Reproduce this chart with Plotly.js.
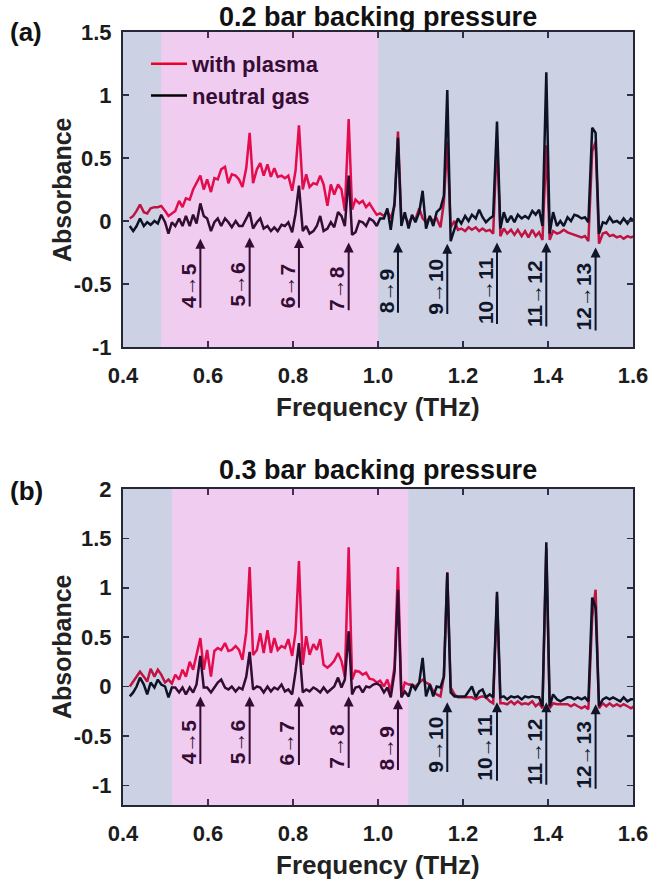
<!DOCTYPE html>
<html>
<head>
<meta charset="utf-8">
<script src="https://cdn.plot.ly/plotly-3.0.1.min.js"></script>
<style>html,body{margin:0;padding:0;background:#fff;}#chart{width:651px;height:881px;}</style>
</head>
<body>
<div id="chart"></div>
<script>
// ---------------- DATA ----------------
const seriesNames = ['with plasma', 'neutral gas'];
const panelTitles = ['0.2 bar backing pressure', '0.3 bar backing pressure'];
const panelLetters = ['(a)', '(b)'];
const xAxisTitle = 'Frequency (THz)';
const yAxisTitle = 'Absorbance';

const freqTHz = [
0.416,0.424,0.432,0.440,0.449,0.457,0.465,0.474,0.482,0.490,
0.499,0.507,0.515,0.523,0.532,0.540,0.548,0.557,0.565,0.573,
0.582,0.590,0.598,0.607,0.615,0.623,0.631,0.640,0.648,0.656,
0.665,0.673,0.681,0.690,0.698,0.706,0.715,0.723,0.731,0.740,
0.748,0.756,0.764,0.773,0.781,0.789,0.798,0.806,0.814,0.823,
0.831,0.839,0.848,0.856,0.864,0.872,0.881,0.889,0.897,0.906,
0.914,0.922,0.931,0.939,0.947,0.956,0.964,0.972,0.980,0.989,
0.997,1.005,1.014,1.022,1.030,1.039,1.047,1.055,1.063,1.072,
1.080,1.088,1.097,1.105,1.113,1.122,1.130,1.138,1.147,1.155,
1.163,1.171,1.180,1.188,1.196,1.205,1.213,1.221,1.230,1.238,
1.246,1.254,1.263,1.271,1.280,1.288,1.296,1.304,1.313,1.321,
1.329,1.338,1.346,1.354,1.363,1.371,1.379,1.387,1.396,1.404,
1.412,1.421,1.429,1.437,1.446,1.454,1.462,1.470,1.479,1.487,
1.495,1.504,1.512,1.520,1.529,1.537,1.545,1.553,1.562,1.570,
1.578,1.587,1.595,1.603];

// panel (a): 0.2 bar
const plasmaA = [
0.02,0.04,0.08,0.13,0.07,0.06,0.10,0.11,0.11,0.12,
0.08,0.04,0.06,0.08,0.16,0.11,0.18,0.17,0.25,0.30,
0.36,0.25,0.33,0.23,0.34,0.33,0.41,0.43,0.30,0.37,
0.36,0.33,0.27,0.42,0.70,0.30,0.41,0.46,0.36,0.45,
0.35,0.42,0.35,0.36,0.34,0.36,0.24,0.40,0.76,0.25,
0.37,0.27,0.30,0.29,0.36,0.29,0.12,0.29,0.21,0.29,
0.25,0.08,0.81,0.09,0.17,0.14,0.16,0.11,0.14,0.09,
0.05,0.06,0.04,0.08,0.02,0.12,0.71,0.00,0.04,-0.02,
0.03,0.01,0.10,0.02,-0.01,0.03,0.00,0.02,-0.05,0.15,
0.63,-0.05,0.00,-0.07,-0.06,-0.08,-0.05,-0.07,-0.05,-0.08,
-0.06,-0.08,-0.07,-0.10,0.65,-0.12,-0.06,-0.10,-0.07,-0.11,
-0.07,-0.12,-0.08,-0.13,-0.07,-0.12,-0.09,-0.15,0.60,-0.15,
-0.08,-0.10,-0.09,-0.07,-0.09,-0.10,-0.11,-0.12,-0.13,-0.12,
-0.16,0.55,0.63,-0.18,-0.10,-0.09,-0.12,-0.11,-0.13,-0.12,
-0.14,-0.12,-0.13,-0.12];
const neutralA = [
-0.04,-0.08,-0.04,0.02,-0.04,-0.01,-0.03,0.00,-0.02,0.05,
-0.01,-0.10,-0.01,-0.04,0.02,-0.04,0.04,-0.04,0.05,-0.02,
0.14,0.04,0.02,-0.08,-0.01,0.02,-0.04,0.02,-0.01,-0.05,
0.00,-0.04,-0.04,0.02,0.07,-0.06,-0.01,0.02,-0.06,-0.04,
-0.08,-0.05,-0.08,-0.03,-0.04,-0.01,-0.09,0.06,0.28,-0.08,
-0.04,-0.10,-0.08,-0.04,0.04,-0.08,-0.06,-0.01,-0.05,0.07,
0.04,-0.04,0.36,-0.11,-0.09,0.00,-0.01,-0.04,0.02,0.00,
-0.04,0.02,0.02,0.10,-0.07,0.15,0.66,-0.04,0.07,-0.06,
0.05,-0.01,0.07,0.24,-0.06,0.04,-0.04,0.07,0.10,0.20,
1.04,-0.16,-0.06,0.02,-0.02,0.04,0.00,0.05,0.02,0.09,
0.03,-0.01,0.02,0.04,0.79,-0.06,0.07,-0.01,0.04,-0.01,
0.05,0.02,0.04,0.02,0.08,0.05,0.09,-0.04,1.18,-0.10,
0.07,-0.04,0.00,-0.04,0.03,0.00,0.05,0.04,0.02,0.03,
-0.01,0.74,0.70,-0.10,-0.01,-0.02,0.03,-0.01,0.00,-0.02,
0.02,-0.02,0.02,0.00];

// panel (b): 0.3 bar
const plasmaB = [
0.00,0.05,0.10,0.15,0.10,0.05,0.18,0.10,0.17,0.12,
0.04,0.07,0.03,0.12,0.07,0.17,0.10,0.25,0.17,0.31,
0.49,0.17,0.37,0.10,0.36,0.39,0.37,0.44,0.36,0.37,
0.41,0.37,0.27,0.55,1.21,0.32,0.37,0.54,0.34,0.57,
0.34,0.49,0.37,0.41,0.39,0.48,0.31,0.55,1.27,0.22,
0.51,0.32,0.43,0.37,0.48,0.22,0.19,0.22,0.26,0.34,
0.26,0.10,1.41,0.07,0.16,0.15,0.12,0.14,0.08,0.07,
0.04,0.06,0.00,0.07,-0.05,0.20,1.21,-0.10,0.04,0.02,
0.02,0.00,0.04,0.07,0.04,0.02,-0.05,-0.08,-0.10,0.10,
1.16,-0.01,-0.08,-0.11,-0.11,-0.11,-0.11,-0.11,-0.13,-0.11,
-0.10,-0.11,-0.15,-0.17,0.92,-0.17,-0.17,-0.18,-0.15,-0.18,
-0.15,-0.18,-0.17,-0.18,-0.15,-0.20,-0.17,-0.22,1.40,-0.22,
-0.17,-0.18,-0.18,-0.18,-0.18,-0.20,-0.18,-0.20,-0.22,-0.20,
-0.23,0.70,0.98,-0.22,-0.17,-0.20,-0.17,-0.20,-0.18,-0.20,
-0.18,-0.20,-0.22,-0.20];
const neutralB = [
-0.10,-0.06,0.00,0.09,0.02,-0.08,0.04,-0.01,0.07,0.02,
0.00,-0.11,-0.01,-0.01,-0.06,-0.01,-0.08,-0.01,-0.06,0.02,
0.31,-0.01,-0.01,-0.06,-0.01,0.04,0.07,-0.01,-0.03,0.00,
-0.05,-0.01,-0.03,0.10,0.35,-0.03,0.00,-0.01,-0.06,0.00,
-0.05,-0.01,-0.03,0.02,-0.05,-0.03,-0.08,0.15,0.44,-0.06,
-0.03,-0.05,-0.01,-0.03,-0.06,-0.01,-0.06,-0.03,0.00,0.09,
-0.01,0.07,0.56,-0.08,-0.01,0.00,-0.06,0.00,-0.01,0.02,
0.03,0.01,-0.06,-0.01,-0.11,0.15,0.98,-0.11,-0.05,-0.10,
0.02,-0.03,0.04,0.29,-0.10,0.02,-0.10,0.00,-0.01,0.10,
1.15,-0.06,-0.10,-0.10,-0.10,-0.10,-0.05,0.00,-0.11,-0.05,
-0.03,-0.11,-0.08,-0.11,0.96,-0.11,-0.10,-0.13,-0.10,-0.11,
-0.10,-0.13,-0.10,-0.11,-0.10,-0.11,-0.11,-0.20,1.46,-0.20,
-0.08,-0.13,-0.15,-0.13,-0.11,-0.11,-0.13,-0.11,-0.13,-0.11,
-0.15,0.90,0.80,-0.20,-0.13,-0.11,-0.13,-0.11,-0.13,-0.15,
-0.11,-0.15,-0.13,-0.13];

// rotational transitions
const lineFreqs = [0.582, 0.698, 0.814, 0.931, 1.047, 1.163, 1.280, 1.396, 1.512];
const transitionLabels = ['4→5','5→6','6→7','7→8','8→9','9→10','10→11','11→12','12→13'];

// plasma-region shading (THz)
const plasmaRegionA = [0.49, 1.0];
const plasmaRegionB = [0.515, 1.071];

// ticks
const xTickVals = [0.4, 0.6, 0.8, 1.0, 1.2, 1.4, 1.6];
const xTickText = ['0.4','0.6','0.8','1.0','1.2','1.4','1.6'];
const yTickValsA = [-1, -0.5, 0, 0.5, 1, 1.5];
const yTickTextA = ['-1','-0.5','0','0.5','1','1.5'];
const yTickValsB = [-1, -0.5, 0, 0.5, 1, 1.5, 2];
const yTickTextB = ['-1','-0.5','0','0.5','1','1.5','2'];

// ---------------- LAYOUT / STYLE ----------------
const W = 651, H = 881;
const px = v => v / W;
const py = v => 1 - v / H;
const FONT = 'Liberation Sans, Arial, Helvetica, sans-serif';
const RED = 'rgb(238,0,38)';
const BLACK = 'rgb(0,0,0)';
const AXC = 'rgb(38,38,56)';
const PINK = 'rgb(195,50,195)';
const BLUE = 'rgb(51,75,147)';
const OVL = 0.25;
const TINT_PINK = 'rgb(52,12,52)';
const TINT_BLUE = 'rgb(16,22,42)';

// arrow geometry (absorbance units) per panel
const arrowTipA  = [-0.14,-0.13,-0.135,-0.17,-0.17,-0.18,-0.17,-0.17,-0.21];
const arrowBaseA = [-0.70,-0.69,-0.70,-0.72,-0.74,-0.75,-0.83,-0.85,-0.88];
const arrowTipB  = [-0.10,-0.10,-0.10,-0.10,-0.13,-0.16,-0.16,-0.16,-0.18];
const arrowBaseB = [-0.80,-0.80,-0.81,-0.84,-0.86,-0.88,-0.97,-1.01,-1.05];

const xDom = [px(123), px(633)];
const yDomA = [py(347), py(32)];
const yDomB = [py(805), py(489)];

const traces = [
  {x: freqTHz, y: plasmaA, xaxis:'x', yaxis:'y', mode:'lines', name: seriesNames[0],
   line:{color:RED, width:2.5}, legendgroup:'p'},
  {x: freqTHz, y: neutralA, xaxis:'x', yaxis:'y', mode:'lines', name: seriesNames[1],
   line:{color:BLACK, width:2.5}, legendgroup:'n'},
  {x: freqTHz, y: plasmaB, xaxis:'x2', yaxis:'y2', mode:'lines', name: seriesNames[0],
   line:{color:RED, width:2.5}, showlegend:false, legendgroup:'p'},
  {x: freqTHz, y: neutralB, xaxis:'x2', yaxis:'y2', mode:'lines', name: seriesNames[1],
   line:{color:BLACK, width:2.5}, showlegend:false, legendgroup:'n'}
];

function xAxis(anchor) {
  return {domain: xDom, range:[0.4, 1.6], anchor: anchor, tickvals: xTickVals, ticktext: xTickText,
    ticks:'inside', ticklen:6, tickwidth:1.5, tickcolor:AXC, showline:true, linewidth:2, linecolor:AXC,
    mirror:'ticks', showgrid:false, zeroline:false, ticklabelstandoff:8,
    tickfont:{family:FONT, size:22, weight:'bold', color:'#1c1c1c'}};
}
function yAxis(anchor, dom, range, vals, text) {
  return {domain: dom, range: range, anchor: anchor, tickvals: vals, ticktext: text,
    ticks:'inside', ticklen:6, tickwidth:1.5, tickcolor:AXC, showline:true, linewidth:2, linecolor:AXC,
    mirror:'ticks', showgrid:false, zeroline:false, ticklabelstandoff:5,
    tickfont:{family:FONT, size:22, weight:'bold', color:'#1c1c1c'}};
}

function regionShapes(xr, yr, region) {
  const mk = (x0, x1, col) => ({type:'rect', xref:xr, yref: yr + ' domain', x0:x0, x1:x1, y0:0, y1:1,
    fillcolor:col, opacity:OVL, line:{width:0}, layer:'above'});
  return [mk(0.4, region[0], BLUE), mk(region[0], region[1], PINK), mk(region[1], 1.6, BLUE)];
}

const annotations = [];
function panelAnnotations(xr, yr, tips, bases, region) {
  lineFreqs.forEach((f, i) => {
    const inPink = f >= region[0] && f <= region[1];
    const col = inPink ? TINT_PINK : TINT_BLUE;
    annotations.push({xref:xr, yref:yr, axref:xr, ayref:yr, x:f, y:tips[i], ax:f, ay:bases[i],
      text:'', showarrow:true, arrowhead:2, arrowsize:1, arrowwidth:2, arrowcolor:col, standoff:0});
    annotations.push({xref:xr, yref:yr, x:f, y:bases[i], xshift:-12, yshift:-1, text:
      transitionLabels[i].replace('→', '<span style="font-weight:normal">→</span>'),
      showarrow:false, textangle:-90, xanchor:'center', yanchor:'bottom',
      font:{family:FONT, size:21, weight:'bold', color:col}});
  });
}
panelAnnotations('x', 'y', arrowTipA, arrowBaseA, plasmaRegionA);
panelAnnotations('x2', 'y2', arrowTipB, arrowBaseB, plasmaRegionB);

const titleFont = {family:FONT, size:27, weight:'bold', color:'#111'};
const axTitleFont = {family:FONT, size:26, weight:'bold', color:'#222'};
const yTitleFont = {family:FONT, size:25, weight:'bold', color:'#222'};
const cx = px(378);
[[panelTitles[0], 17], [panelTitles[1], 470]].forEach(([t, y]) => annotations.push({
  xref:'paper', yref:'paper', x:cx, y:py(y), xanchor:'center', yanchor:'middle', text:t,
  showarrow:false, font:titleFont}));
[[panelLetters[0], 32], [panelLetters[1], 491]].forEach(([t, y]) => annotations.push({
  xref:'paper', yref:'paper', x:px(26), y:py(y), xanchor:'center', yanchor:'middle', text:t,
  showarrow:false, font:{family:FONT, size:26, weight:'bold', color:'#111'}}));
[407, 865].forEach(y => annotations.push({xref:'paper', yref:'paper', x:cx, y:py(y),
  xanchor:'center', yanchor:'middle', text:xAxisTitle, showarrow:false, font:axTitleFont}));
[190, 647].forEach(y => annotations.push({xref:'paper', yref:'paper', x:px(62), y:py(y),
  xanchor:'center', yanchor:'middle', text:yAxisTitle, textangle:-90, showarrow:false, font:yTitleFont}));

const layout = {
  width: W, height: H, margin:{l:0, r:0, t:0, b:0},
  paper_bgcolor:'#fff', plot_bgcolor:'#fff', showlegend:true,
  xaxis: xAxis('y'), yaxis: yAxis('x', yDomA, [-1, 1.5], yTickValsA, yTickTextA),
  xaxis2: xAxis('y2'), yaxis2: yAxis('x2', yDomB, [-1.2, 2], yTickValsB, yTickTextB),
  shapes: regionShapes('x', 'y', plasmaRegionA).concat(regionShapes('x2', 'y2', plasmaRegionB)),
  annotations: annotations,
  legend:{x:px(146), y:py(43), xanchor:'left', yanchor:'top', bgcolor:'rgba(0,0,0,0)', borderwidth:0,
    font:{family:FONT, size:22, weight:'bold', color:TINT_PINK}, tracegroupgap:0, itemwidth:36}
};

Plotly.newPlot('chart', traces, layout, {displayModeBar:false, staticPlot:true});
</script>
</body>
</html>
